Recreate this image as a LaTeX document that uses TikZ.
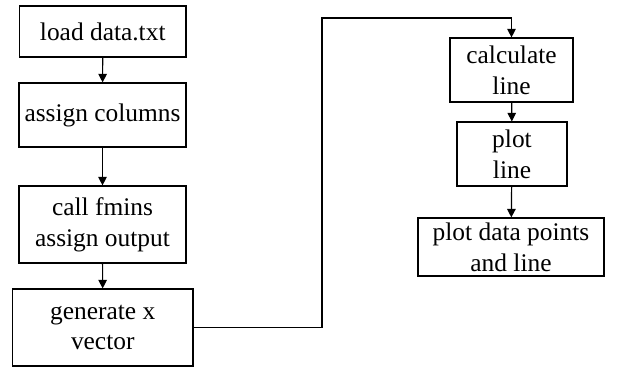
\documentclass[tikz,border=0pt]{standalone}
\usepackage{fontspec}
\setmainfont{Liberation Serif}
\usetikzlibrary{arrows.meta}
\begin{document}
\begin{tikzpicture}[x=1bp,y=-1bp,
  box/.style={draw=black,line width=1.2bp,inner sep=0pt,align=center,
    font=\fontsize{25.5}{31}\selectfont,anchor=center},
  arr/.style={line width=1.2bp,-{Triangle[width=8.5bp,length=8.5bp]}}]
\fill[white] (0,0) rectangle (634,381);
\useasboundingbox (0,0) rectangle (634,381);
\node[box,minimum width=166.5bp,minimum height=51bp] (b1) at (102.75,31.5) {load data.txt};
\node[box,minimum width=167bp,minimum height=64bp] (b2) at (102.5,115) {assign columns};
\node[box,minimum width=167bp,minimum height=77bp] (b3) at (102.5,224.5) {call fmins\\assign output};
\node[box,minimum width=180.5bp,minimum height=77bp] (b4) at (102.75,327.5) {generate x\\vector};
\node[box,minimum width=123bp,minimum height=64bp] (b5) at (511.5,70) {calculate\\line};
\node[box,minimum width=110bp,minimum height=64bp] (b6) at (512,154) {plot\\line};
\node[box,minimum width=186bp,minimum height=58bp] (b7) at (511,247) {plot data points\\and line};
\coordinate (c1) at (322,327.5);
\coordinate (c2) at (322,18);
\coordinate (c3) at (511.5,18);
\draw[arr] (b1) -- (b2);
\draw[arr] (b2) -- (b3);
\draw[arr] (b3) -- (b4);
\draw[arr] (b4.east) -- (c1) -- (c2) -- (c3) -- (b5.north);
\draw[arr] (b5) -- (b6);
\draw[arr] (b6) -- (b7);
\end{tikzpicture}
\end{document}
